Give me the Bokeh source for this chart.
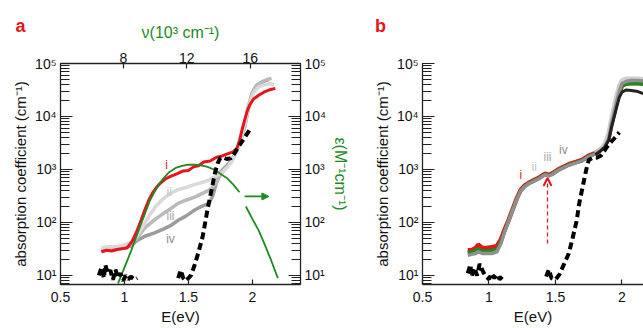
from bokeh.plotting import figure
from bokeh.layouts import row
from bokeh.models import (Range1d, LinearAxis, LogAxis, LogTicker, FixedTicker,
                          SingleIntervalTicker, CustomJSTickFormatter, Label, Arrow,
                          OpenHead, NormalHead)
from bokeh.core.properties import value
from bokeh.embed import file_html
from bokeh.resources import INLINE

NaN = float("nan")

# ---------------- panel a data (E in eV, absorption coefficient in cm^-1) ----------------
E_red_a = [0.82, 0.86, 0.90, 0.94, 0.98, 1.02, 1.06, 1.10, 1.13, 1.16, 1.19, 1.22, 1.25,
           1.28, 1.32, 1.36, 1.41, 1.46, 1.50, 1.54, 1.58, 1.62, 1.67, 1.72, 1.76, 1.80,
           1.85, 1.88, 1.90, 1.92, 1.94, 1.96, 1.98, 2.01, 2.05, 2.09, 2.13, 2.18]
alpha_red_a = [28, 30, 29, 31, 32, 33, 44, 71, 110, 174, 263, 363, 457, 550, 661, 741, 830,
               940, 960, 1120, 1180, 1380, 1450, 1700, 1780, 1950, 2150, 2510, 3550, 5620,
               8510, 12600, 16600, 21400, 25100, 28800, 31600, 33900]

E_ii_a = [0.82, 0.88, 0.94, 1.00, 1.05, 1.10, 1.15, 1.20, 1.25, 1.30, 1.36, 1.42, 1.48, 1.54,
          1.60, 1.66, 1.72, 1.77, 1.81, 1.85, 1.89, 1.92, 1.95, 1.98, 2.01, 2.05, 2.10, 2.14, 2.17]
alpha_ii_a = [33, 35, 35, 38, 42, 56, 89, 141, 209, 275, 355, 417, 457, 513, 562, 631, 759,
              912, 1120, 1580, 2510, 4470, 8910, 17800, 28200, 36300, 39800, 41700, 39800]

E_iii_a = [0.82, 0.88, 0.94, 1.00, 1.05, 1.10, 1.16, 1.23, 1.30, 1.36, 1.42, 1.48, 1.55, 1.61,
           1.67, 1.71, 1.75, 1.79, 1.83, 1.87, 1.91, 1.94, 1.97, 2.00, 2.04, 2.08, 2.12, 2.15]
alpha_iii_a = [30, 33, 32, 35, 38, 52, 79, 110, 145, 182, 229, 263, 302, 355, 417, 525, 794,
               1050, 1320, 2000, 3550, 7080, 15800, 28200, 39800, 45700, 50100, 52500]

E_iv_a = [0.82, 0.88, 0.94, 1.00, 1.05, 1.10, 1.16, 1.23, 1.30, 1.36, 1.42, 1.48, 1.54, 1.60,
          1.66, 1.69, 1.72, 1.75, 1.79, 1.83, 1.87, 1.91, 1.94, 1.97, 2.00, 2.03, 2.07, 2.10, 2.13]
alpha_iv_a = [28, 32, 31, 34, 36, 46, 55, 63, 74, 87, 110, 132, 166, 200, 229, 316, 562, 891,
              1120, 1410, 2090, 3550, 6310, 14100, 28200, 38000, 43700, 46800, 50100]

# molar absorption coefficient epsilon (M^-1 cm^-1), right axis
E_eps = [0.95, 1.00, 1.05, 1.10, 1.15, 1.20, 1.25, 1.30, 1.35, 1.40, 1.45, 1.50, 1.55, 1.60,
         1.65, 1.70, 1.75, 1.80, 1.85, 1.90, NaN, 1.95, 2.00, 2.05, 2.10, 2.15, 2.20]
eps = [7.1, 14.1, 28.2, 60.3, 126, 263, 437, 661, 891, 1070, 1170, 1230, 1230, 1200, 1120,
       1000, 832, 692, 525, 372, NaN, 200, 117, 71, 37, 18.6, 8.9]

E_blk_a = [0.80, 0.82, 0.84, 0.85, 0.87, 0.89, 0.91, 0.93, 0.95, 0.97, 0.99, 1.01, 1.03, 1.05,
           1.08, 1.10, NaN, 1.42, 1.44, 1.46, 1.48, 1.52, 1.55, 1.58, 1.61, 1.63, 1.65, 1.67,
           1.69, 1.71, 1.73, 1.75, 1.77, 1.80, 1.83, 1.86, 1.89, 1.92, 1.95, 1.98]
alpha_blk_a = [10, 14, 8.9, 16, 11, 12.6, 8.3, 13, 8.9, 11, 7.9, 10, 8.5, 9.5, 8.3, 8.9, NaN,
               8.9, 12.6, 8.9, 7.9, 10, 16, 28, 52, 95, 178, 302, 525, 891, 1320, 1660, 1700,
               1580, 1620, 2000, 2630, 3390, 4370, 5620]

labels_a = ["i", "ii", "iii", "iv"]
labels_a_E = [1.33, 1.35, 1.36, 1.36]
labels_a_alpha = [1200, 372, 135, 48]

nu_ticks = [8, 12, 16]          # 10^3 cm^-1
EV_TO_KCM = 8.06554             # 10^3 cm^-1 per eV

arrow_a_E = [1.94, 2.13]
arrow_a_val = [310, 310]

# ---------------- panel b data ----------------
E_b = [0.84, 0.87, 0.90, 0.92, 0.95, 0.98, 1.02, 1.06, 1.09, 1.12, 1.15, 1.18, 1.21, 1.24,
       1.27, 1.30, 1.34, 1.38, 1.42, 1.45, 1.48, 1.52, 1.56, 1.60, 1.65, 1.70, 1.75, 1.80,
       1.84, 1.87, 1.90, 1.92, 1.94, 1.96, 1.98, 2.00, 2.03, 2.07, 2.12, 2.16]
alpha_red_b = [30, 30, 33, 38, 33, 33, 34, 36, 48, 76, 115, 182, 288, 417, 501, 562, 631, 708,
               832, 794, 851, 1000, 1120, 1260, 1380, 1510, 1820, 2040, 2400, 2820, 3980,
               7080, 11200, 18200, 28200, 38000, 41700, 42700, 42700, 41700]
alpha_green_b = [27, 28, 30, 32, 29, 29, 30, 31, 44, 72, 112, 178, 282, 407, 490, 550, 617,
                 692, 813, 776, 832, 977, 1100, 1230, 1350, 1480, 1780, 2000, 2340, 2750,
                 3890, 6920, 11000, 17800, 27500, 37200, 40700, 41700, 41700, 40700]
alpha_grey_b = [24, 25, 26, 28, 26, 26, 26, 28, 40, 69, 110, 174, 275, 398, 479, 537, 603,
                676, 794, 759, 813, 955, 1070, 1200, 1320, 1450, 1740, 1950, 2290, 2690,
                3800, 7080, 11500, 19100, 30200, 41700, 45700, 47900, 47900, 46800]

E_b_top = [1.80, 1.84, 1.87, 1.90, 1.92, 1.94, 1.96, 1.98, 2.00, 2.03, 2.07, 2.12, 2.16]
alpha_lgrey_b = [2000, 2400, 3020, 4790, 8910, 15100, 25100, 38000, 47900, 51300, 51300,
                 51300, 50100]
alpha_dark_b = [1900, 2240, 2630, 3550, 6030, 9550, 15100, 22900, 28800, 31600, 30900,
                29500, 26900]

E_blk_b = [0.84, 0.86, 0.87, 0.89, 0.91, 0.93, 0.95, 0.97, 1.00, 1.02, 1.04, 1.06, 1.08, 1.10,
           NaN, 1.43, 1.45, 1.47, 1.50, 1.53, 1.56, 1.58, 1.60, 1.63, 1.66, 1.68, 1.71, 1.73,
           1.75, 1.78, 1.81, 1.84, 1.87, 1.90, 1.94, 1.98]
alpha_blk_b = [11, 16, 9.5, 14, 10, 16.6, 12.6, 10, 8.5, 11, 8.9, 10.5, 8.5, 9.5, NaN, 9.5,
               13, 8.9, 8.3, 10.5, 15.5, 20, 26, 52, 110, 240, 550, 955, 1510, 1660, 1660,
               1820, 2290, 2950, 3800, 5010]

labels_b = ["i", "ii", "iii", "iv"]
labels_b_E = [1.24, 1.34, 1.44, 1.56]
labels_b_alpha = [776, 1100, 1700, 2290]

arrow_b_E = [1.44, 1.44]
arrow_b_val = [40, 690]

# ---------------- styling ----------------
FONT = "Liberation Sans"
RED = "#e8141c"
GREEN = "#1f8a1f"
AX = "#222222"
C_II, C_III, C_IV = "#d9d9d9", "#bababa", "#9c9c9c"
LBL_COLORS = [RED, "#c4c4c4", "#a8a8a8", "#8c8c8c"]

SUP_CODE = """
const s = {'0':'\u2070','1':'\u00b9','2':'\u00b2','3':'\u00b3','4':'\u2074','5':'\u2075',
           '6':'\u2076','7':'\u2077','8':'\u2078','9':'\u2079','-':'\u207b'};
const e = Math.round(Math.log10(tick));
return '10' + String(e).split('').map(c => s[c]).join('');
"""


def sup_fmt():
    return CustomJSTickFormatter(code=SUP_CODE)


def ev_fmt():
    return CustomJSTickFormatter(code="return String(Math.round(tick*10)/10);")


def style_axis(ax, tin=12, minor_in=9, standoff=4):
    ax.axis_line_color = AX
    ax.axis_line_width = 1.3
    ax.major_tick_line_color = AX
    ax.minor_tick_line_color = AX
    ax.major_tick_line_width = 1.2
    ax.minor_tick_line_width = 1.0
    ax.major_tick_in = tin
    ax.major_tick_out = 0
    ax.minor_tick_in = minor_in
    ax.minor_tick_out = 0
    ax.major_label_standoff = standoff
    ax.major_label_text_font = FONT
    ax.major_label_text_font_size = "14px"
    ax.major_label_text_color = "#111111"
    ax.axis_label_text_font = FONT
    ax.axis_label_text_font_style = "normal"
    ax.axis_label_text_font_size = "15px"
    ax.axis_label_text_color = "#111111"


def panel_letter(txt, x, y):
    return Label(x=x, y=y, x_units="screen", y_units="screen", text=txt, text_color=RED,
                 text_font=FONT, text_font_size="18px", text_font_style="bold",
                 text_align="center", text_baseline="middle")


Y0, Y1 = 6.76, 1e5
XA0, XA1 = 0.5, 2.377
XB0, XB1 = 0.5, 2.162

# ---------------- panel a ----------------
fa = figure(width=352, height=328, x_range=Range1d(XA0, XA1), y_range=Range1d(Y0, Y1),
            y_axis_type="log", output_backend="svg", toolbar_location=None,
            min_border_left=60, min_border_right=48, min_border_top=63, min_border_bottom=44)
fa.grid.visible = False
fa.outline_line_color = AX
fa.extra_x_ranges = {"nu": Range1d(XA0 * EV_TO_KCM, XA1 * EV_TO_KCM)}

bx = fa.xaxis[0]
bx.ticker = SingleIntervalTicker(interval=0.5, num_minor_ticks=0)
bx.formatter = ev_fmt()
bx.axis_label = "E(eV)"
style_axis(bx, tin=5, minor_in=0, standoff=7)
bx.axis_label_standoff = 3

ly = fa.yaxis[0]
ly.ticker = LogTicker(num_minor_ticks=10)
ly.formatter = sup_fmt()
ly.axis_label = "absorption coefficient (cm\u207b\u00b9)"
style_axis(ly)
ly.axis_label_standoff = 3

top = LinearAxis(x_range_name="nu", ticker=FixedTicker(ticks=nu_ticks, minor_ticks=[]),
                 axis_label="\u03bd(10\u00b3 cm\u207b\u00b9)")
style_axis(top, tin=5, minor_in=0, standoff=1)
top.axis_label_text_color = GREEN
top.axis_label_text_font_size = "16px"
top.axis_label_standoff = 9
fa.add_layout(top, "above")

ry = LogAxis(ticker=LogTicker(num_minor_ticks=10), formatter=sup_fmt(),
             axis_label="\u03b5(M\u207b\u00b9cm\u207b\u00b9)")
style_axis(ry)
ry.axis_label_text_color = GREEN
ry.axis_label_text_font_size = "16px"
ry.axis_label_standoff = 3
fa.add_layout(ry, "right")

fa.line(E_iv_a, alpha_iv_a, line_color=C_IV, line_width=3.5)
fa.line(E_iii_a, alpha_iii_a, line_color=C_III, line_width=3.5)
fa.line(E_ii_a, alpha_ii_a, line_color=C_II, line_width=3.5)
fa.line(E_red_a, alpha_red_a, line_color=RED, line_width=3)
fa.line(E_eps, eps, line_color=GREEN, line_width=1.8)
fa.line(E_blk_a, alpha_blk_a, line_color="black", line_width=4, line_dash="7 4")

fa.text(x=labels_a_E, y=labels_a_alpha, text=labels_a, text_color=LBL_COLORS,
        text_font=value(FONT), text_font_size=value("12px"),
        text_align="center", text_baseline="middle")

fa.add_layout(Arrow(end=NormalHead(size=7, fill_color=GREEN, line_color=GREEN),
                    x_start=arrow_a_E[0], y_start=arrow_a_val[0],
                    x_end=arrow_a_E[1], y_end=arrow_a_val[1],
                    line_color=GREEN, line_width=1.8))

# panel letter in the top side panel (not clipped to the frame)
fa.add_layout(panel_letter("a", -40, -5), "above")

# ---------------- panel b ----------------
fb = figure(width=291, height=328, x_range=Range1d(XB0, XB1), y_range=Range1d(Y0, Y1),
            y_axis_type="log", output_backend="svg", toolbar_location=None,
            min_border_left=70, min_border_right=0, min_border_top=63, min_border_bottom=44)
fb.grid.visible = False
fb.outline_line_color = None

bx2 = fb.xaxis[0]
bx2.ticker = SingleIntervalTicker(interval=0.5, num_minor_ticks=0)
bx2.formatter = ev_fmt()
bx2.axis_label = "E(eV)"
style_axis(bx2, tin=5, minor_in=0, standoff=7)
bx2.axis_label_standoff = 3

ly2 = fb.yaxis[0]
ly2.ticker = LogTicker(num_minor_ticks=10)
ly2.formatter = sup_fmt()
ly2.axis_label = "absorption coefficient (cm\u207b\u00b9)"
style_axis(ly2)
ly2.axis_label_standoff = 3

fb.line(E_b, alpha_red_b, line_color=RED, line_width=4.5)
fb.line(E_b, alpha_green_b, line_color=GREEN, line_width=3.5)
fb.line(E_b_top, alpha_lgrey_b, line_color="#cfcfcf", line_width=4.5)
fb.line(E_b, alpha_grey_b, line_color="#8f8f8f", line_width=3.5)
fb.line(E_b_top, alpha_dark_b, line_color="#222222", line_width=3)
fb.line(E_blk_b, alpha_blk_b, line_color="black", line_width=4, line_dash="7 4")

fb.text(x=labels_b_E, y=labels_b_alpha, text=labels_b, text_color=LBL_COLORS,
        text_font=value(FONT), text_font_size=value("12px"),
        text_align="center", text_baseline="middle")

fb.add_layout(Arrow(end=OpenHead(size=8, line_color=RED, line_width=2),
                    x_start=arrow_b_E[0], y_start=arrow_b_val[0],
                    x_end=arrow_b_E[1], y_end=arrow_b_val[1],
                    line_color=RED, line_width=1.3, line_dash="4 3"))

fb.add_layout(panel_letter("b", -42, 38), "above")

layout = row(fa, fb)
open("out.html", "w").write(file_html(layout, INLINE))
